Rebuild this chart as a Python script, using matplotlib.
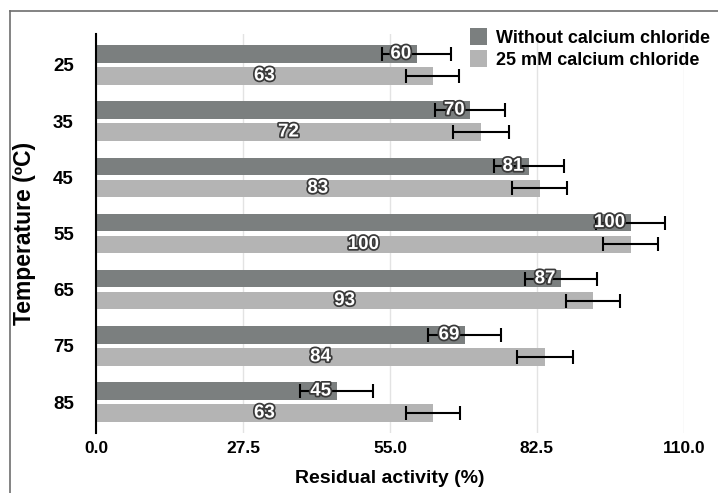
import matplotlib
matplotlib.use("Agg")
import matplotlib.pyplot as plt
import matplotlib.patheffects as pe
from matplotlib.lines import Line2D
import numpy as np

plt.rcParams['font.family'] = ['Liberation Sans', 'DejaVu Sans']
plt.rcParams['font.weight'] = 'bold'

temps = ['25', '35', '45', '55', '65', '75', '85']
without_cacl2 = [60, 70, 81, 100, 87, 69, 45]
with_cacl2 = [63, 72, 83, 100, 93, 84, 63]
err_without = [6.5, 6.6, 6.6, 6.5, 6.8, 6.8, 6.8]
err_with = [5.0, 5.3, 5.2, 5.1, 5.1, 5.3, 5.1]
xticks = [0.0, 27.5, 55.0, 82.5, 110.0]
series_names = ['Without calcium chloride', '25 mM calcium chloride']

dark = '#7b7f7f'
light = '#b4b4b4'

W, H = 718, 493
fig = plt.figure(figsize=(W / 100, H / 100), dpi=100)
ax = fig.add_axes([96 / W, 1 - 433 / H, (684 - 96) / W, (433 - 34) / H])

y = np.arange(len(temps))
bh = 0.31
off = 0.195
b1 = ax.barh(y - off, without_cacl2, height=bh, color=dark, label=series_names[0], zorder=2)
b2 = ax.barh(y + off, with_cacl2, height=bh, color=light, label=series_names[1], zorder=2)

ekw = dict(fmt='none', ecolor='black', elinewidth=1.5, capsize=5, capthick=1.5, zorder=3)
ax.errorbar(without_cacl2, y - off, xerr=err_without, **ekw)
ax.errorbar(with_cacl2, y + off, xerr=err_with, **ekw)

effects = [pe.withStroke(linewidth=2.5, foreground='#3a3a3a')]
for yi, v in zip(y, without_cacl2):
    ax.annotate(f'{v}', xy=(v, yi - off), xytext=(-4, 0), textcoords='offset points',
                ha='right', va='center', color='white', fontsize=13.5, fontweight='bold',
                path_effects=effects, zorder=4)
for yi, v in zip(y, with_cacl2):
    ax.text(v / 2, yi + off, f'{v}', ha='center', va='center', color='white',
            fontsize=13.5, fontweight='bold', path_effects=effects, zorder=4)

ax.set_xlim(0, 110)
ax.set_ylim(6.55, -0.55)
ax.set_yticks(y)
ax.set_yticklabels(temps)
ax.set_xticks(xticks)
ax.set_xticklabels([f'{t:.1f}' for t in xticks])
ax.tick_params(axis='y', length=0, pad=16, labelsize=13.5)
ax.tick_params(axis='x', length=0, pad=6, labelsize=12.5)
for lab in ax.get_xticklabels() + ax.get_yticklabels():
    lab.set_fontweight('bold')

ax.grid(axis='x', color='#e3e3e3', linewidth=1, zorder=0)
ax.set_axisbelow(True)
for s in ['top', 'right', 'bottom']:
    ax.spines[s].set_visible(False)
ax.spines['left'].set_color('black')
ax.spines['left'].set_linewidth(1.5)

ax.set_xlabel('Residual activity (%)', fontsize=14, fontweight='bold', labelpad=10)
ax.set_ylabel('Temperature (ºC)', fontsize=16.5, fontweight='bold', labelpad=12)

fig.legend(handles=[b1, b2], loc='upper left', bbox_to_anchor=(470 / W, 1 - 28 / H),
           frameon=False, handlelength=0.95, handleheight=1.05,
           handletextpad=0.5, labelspacing=0.2, borderpad=0, borderaxespad=0,
           prop={'weight': 'bold', 'size': 13})

# outer frame (left and top)
fig.add_artist(Line2D([10 / W, 10 / W], [0, 1 - 11 / H], transform=fig.transFigure,
                      color='#6e6e6e', linewidth=1.2))
fig.add_artist(Line2D([10 / W, 1], [1 - 11 / H, 1 - 11 / H], transform=fig.transFigure,
                      color='#6e6e6e', linewidth=1.2))

fig.savefig('out.png', dpi=100)
